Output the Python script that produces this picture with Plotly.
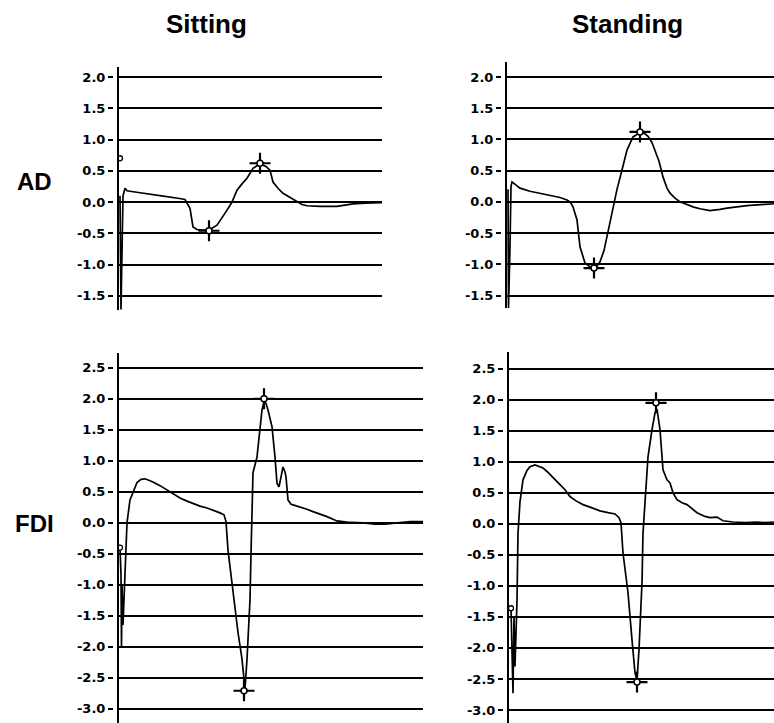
import plotly.graph_objects as go

W, H = 774, 723

# ---------------- data (time index, amplitude) ----------------
# Sitting - AD
sit_ad_t = [1, 1.5, 2, 3, 4, 6, 8, 16, 31, 46, 59, 66, 71, 74, 78, 84, 89, 93, 98, 103, 108, 113,
            118, 123, 128, 134, 141, 147, 151, 154, 159, 164, 171, 178, 183, 188, 201, 218, 226, 234, 246, 263]
sit_ad_v = [0.10, -1.10, -1.72, -0.80, 0.10, 0.22, 0.18, 0.16, 0.12, 0.09, 0.06, 0.04, -0.10, -0.40, -0.44,
            -0.45, -0.44, -0.42, -0.37, -0.26, -0.13, 0.00, 0.19, 0.29, 0.38, 0.54, 0.61, 0.57, 0.51, 0.32,
            0.22, 0.14, 0.07, 0.00, -0.04, -0.06, -0.07, -0.07, -0.05, -0.03, -0.02, -0.01]
sit_ad_mark_t = [90, 141]
sit_ad_mark_v = [-0.46, 0.62]
sit_ad_start_t = [1]
sit_ad_start_v = [0.70]

# Standing - AD
std_ad_t = [1, 1.5, 3, 4, 5, 8, 13, 23, 33, 43, 53, 60, 63, 66, 70, 73, 78, 83, 87, 90, 93, 97, 100, 103,
            106, 110, 115, 120, 126, 133, 138, 141, 145, 148, 152, 156, 160, 163, 168, 173, 186, 193, 203,
            213, 220, 240, 253, 267]
std_ad_v = [0.20, -1.70, -0.72, 0.25, 0.32, 0.28, 0.22, 0.17, 0.14, 0.10, 0.07, 0.03, 0.00, -0.08, -0.29,
            -0.72, -0.98, -1.04, -1.06, -1.03, -0.96, -0.78, -0.56, -0.32, -0.08, 0.20, 0.51, 0.83, 1.04,
            1.11, 1.09, 1.05, 0.95, 0.83, 0.65, 0.40, 0.22, 0.14, 0.06, 0.00, -0.08, -0.11, -0.14, -0.12,
            -0.10, -0.06, -0.04, -0.03]
std_ad_mark_t = [87, 133]
std_ad_mark_v = [-1.06, 1.12]

# Sitting - FDI
sit_fdi_t = [1, 2, 2.5, 3, 4, 6, 8, 11, 14, 18, 22, 26, 31, 34, 41, 48, 54, 61, 68, 74, 81, 88, 95, 101,
             105, 107, 109, 114, 119, 123, 125, 126, 128, 130, 131, 132, 133, 134, 138, 141, 143, 145, 147,
             149, 153, 156, 158, 160, 162, 164, 166, 167, 169, 172, 174, 181, 188, 194, 201, 208, 218, 228,
             244, 256, 266, 278, 291, 304]
sit_fdi_v = [-0.40, -0.84, -2.02, -1.00, -1.65, -0.80, 0.00, 0.37, 0.48, 0.65, 0.70, 0.71, 0.68, 0.66,
             0.60, 0.53, 0.46, 0.40, 0.35, 0.31, 0.27, 0.24, 0.20, 0.16, 0.13, 0.02, -0.44, -1.13, -1.77,
             -2.20, -2.62, -2.68, -2.20, -1.60, -1.24, -0.50, 0.00, 0.81, 1.06, 1.50, 1.82, 1.95, 1.93, 1.82,
             1.55, 1.06, 0.64, 0.58, 0.75, 0.90, 0.82, 0.74, 0.37, 0.30, 0.29, 0.26, 0.22, 0.18, 0.14, 0.10,
             0.03, 0.01, 0.00, -0.02, -0.02, 0.00, 0.02, 0.02]
sit_fdi_mark_t = [125, 145]
sit_fdi_mark_v = [-2.71, 2.00]
sit_fdi_start_t = [1]
sit_fdi_start_v = [-0.40]

# Standing - FDI
std_fdi_t = [2, 3, 4, 5, 6, 8, 9, 11, 14, 18, 21, 26, 30, 34, 39, 44, 50, 56, 61, 67, 74, 81, 91, 99, 106,
             110, 112, 114, 119, 123, 126, 128, 130, 132, 133, 134, 135, 137, 139, 143, 146, 148, 150, 151,
             154, 158, 161, 164, 168, 173, 178, 188, 196, 201, 208, 214, 224, 236, 248, 256, 265]
std_fdi_v = [-1.36, -2.00, -2.73, -1.50, -2.30, -1.23, -0.15, 0.36, 0.71, 0.86, 0.92, 0.95, 0.93, 0.90,
             0.83, 0.74, 0.65, 0.55, 0.44, 0.37, 0.31, 0.27, 0.21, 0.18, 0.16, 0.10, 0.02, -0.47, -1.11,
             -1.87, -2.40, -2.52, -2.03, -1.30, -0.95, -0.15, 0.11, 0.60, 1.08, 1.52, 1.79, 1.85, 1.65, 1.52,
             0.87, 0.71, 0.66, 0.50, 0.39, 0.34, 0.31, 0.18, 0.12, 0.10, 0.11, 0.05, 0.03, 0.02, 0.03, 0.02,
             0.03]
std_fdi_mark_t = [128, 147]
std_fdi_mark_v = [-2.55, 1.95]
std_fdi_start_t = [2]
std_fdi_start_v = [-1.36]

ad_ticks = [2.0, 1.5, 1.0, 0.5, 0.0, -0.5, -1.0, -1.5]
ad_ticktext = ["2.0", "1.5", "1.0", "0.5", "0.0", "-0.5", "-1.0", "-1.5"]
fdi_ticks = [2.5, 2.0, 1.5, 1.0, 0.5, 0.0, -0.5, -1.0, -1.5, -2.0, -2.5, -3.0]
fdi_ticktext = ["2.5", "2.0", "1.5", "1.0", "0.5", "0.0", "-0.5", "-1.0", "-1.5", "-2.0", "-2.5", "-3.0"]

col_titles = ["Sitting", "Standing"]
row_titles = ["AD", "FDI"]

# ---------------- layout geometry (pixels) ----------------
panels = [
    dict(px=(119, 382), py=(67, 310), xr=[0, 263], yr=[-1.728, 2.16], tv=ad_ticks, tt=ad_ticktext,
         t=sit_ad_t, v=sit_ad_v, mt=sit_ad_mark_t, mv=sit_ad_mark_v, st=sit_ad_start_t, sv=sit_ad_start_v),
    dict(px=(507, 774), py=(62, 308), xr=[0, 267], yr=[-1.70, 2.24], tv=ad_ticks, tt=ad_ticktext,
         t=std_ad_t, v=std_ad_v, mt=std_ad_mark_t, mv=std_ad_mark_v, st=[], sv=[]),
    dict(px=(119, 423), py=(353, 723), xr=[0, 304], yr=[-3.23, 2.74], tv=fdi_ticks, tt=fdi_ticktext,
         t=sit_fdi_t, v=sit_fdi_v, mt=sit_fdi_mark_t, mv=sit_fdi_mark_v, st=sit_fdi_start_t, sv=sit_fdi_start_v),
    dict(px=(509, 774), py=(352, 723), xr=[0, 265], yr=[-3.21, 2.77], tv=fdi_ticks, tt=fdi_ticktext,
         t=std_fdi_t, v=std_fdi_v, mt=std_fdi_mark_t, mv=std_fdi_mark_v, st=std_fdi_start_t, sv=std_fdi_start_v),
]

fig = go.Figure()
layout = dict(width=W, height=H, margin=dict(l=0, r=0, t=0, b=0),
              paper_bgcolor="white", plot_bgcolor="white", showlegend=False)

tickfont = dict(family="DejaVu Sans", size=13, color="black", weight="bold")

for i, p in enumerate(panels):
    n = i + 1
    xa = f"x{n}" if n > 1 else "x"
    ya = f"y{n}" if n > 1 else "y"
    yo = f"y{n + 4}"
    xdom = [p["px"][0] / W, p["px"][1] / W]
    ydom = [1 - p["py"][1] / H, 1 - p["py"][0] / H]
    layout[f"xaxis{n}"] = dict(domain=xdom, range=p["xr"], visible=False, anchor=ya, fixedrange=True)
    layout[f"yaxis{n}"] = dict(domain=ydom, range=p["yr"], anchor=xa, showline=True, linecolor="black",
                               linewidth=2, showgrid=True, gridcolor="black", gridwidth=2,
                               tickvals=p["tv"], showticklabels=False, ticks="", zeroline=False)
    layout[f"yaxis{n + 4}"] = dict(overlaying=ya, anchor="free", position=(p["px"][0] - 6) / W,
                                   range=p["yr"], tickvals=p["tv"], ticktext=p["tt"], ticks="outside",
                                   ticklen=5, tickwidth=2, tickcolor="black", showline=False,
                                   showgrid=False, zeroline=False, tickfont=tickfont)
    fig.add_trace(go.Scatter(x=p["t"], y=p["v"], mode="lines", xaxis=xa, yaxis=ya,
                             line=dict(color="black", width=1.7), hoverinfo="skip"))
    fig.add_trace(go.Scatter(x=p["mt"], y=p["mv"], mode="markers", xaxis=xa, yaxis=yo,
                             marker=dict(symbol="cross-thin-open", size=15, color="black",
                                         line=dict(color="black", width=2.2)), hoverinfo="skip"))
    fig.add_trace(go.Scatter(x=p["mt"], y=p["mv"], mode="markers", xaxis=xa, yaxis=yo,
                             marker=dict(symbol="circle", size=6, color="white",
                                         line=dict(color="black", width=1.5)), hoverinfo="skip"))
    if p["st"]:
        fig.add_trace(go.Scatter(x=p["st"], y=p["sv"], mode="markers", xaxis=xa, yaxis=yo,
                                 marker=dict(symbol="circle", size=5, color="white",
                                             line=dict(color="black", width=1.3)), hoverinfo="skip"))

annotations = []
for txt, cx in zip(col_titles, [207, 627]):
    annotations.append(dict(text=f"<b>{txt}</b>", x=cx / W, y=1 - 24 / H, xref="paper", yref="paper",
                            xanchor="center", yanchor="middle", showarrow=False,
                            font=dict(family="Liberation Sans", size=26, color="black")))
for txt, cy in zip(row_titles, [181, 523]):
    annotations.append(dict(text=f"<b>{txt}</b>", x=34 / W, y=1 - cy / H, xref="paper", yref="paper",
                            xanchor="center", yanchor="middle", showarrow=False,
                            font=dict(family="Liberation Sans", size=24, color="black")))
layout["annotations"] = annotations

fig.update_layout(**layout)
fig.write_html("out.html", config={"displayModeBar": False, "staticPlot": True},
               post_script="document.body.style.margin='0';document.body.style.overflow='hidden';")
